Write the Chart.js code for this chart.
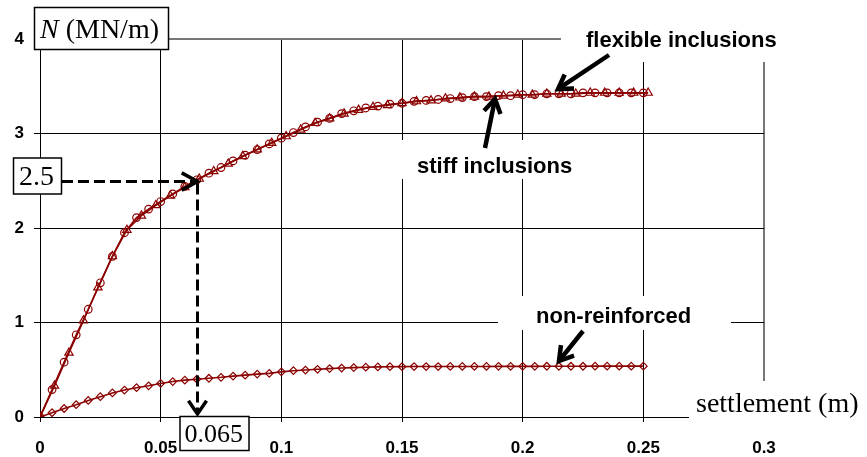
<!DOCTYPE html>
<html>
<head>
<meta charset="utf-8">
<script src="https://cdn.jsdelivr.net/npm/chart.js@4.4.0/dist/chart.umd.min.js"></script>
<style>
  html, body { margin: 0; padding: 0; background: #fff; }
  canvas { display: block; }
</style>
</head>
<body>
<canvas id="settlementChart" width="867" height="457"></canvas>
<script>
// settlement (m) and N (MN/m)
const xStiff = [0, 0.005, 0.01, 0.015, 0.02, 0.025, 0.03, 0.035, 0.04, 0.045, 0.05, 0.055, 0.06, 0.065, 0.07, 0.075,
  0.08, 0.085, 0.09, 0.095, 0.1, 0.105, 0.11, 0.115, 0.12, 0.125, 0.13, 0.135, 0.14, 0.145, 0.15, 0.155, 0.16,
  0.165, 0.17, 0.175, 0.18, 0.185, 0.19, 0.195, 0.2, 0.205, 0.21, 0.215, 0.22, 0.225, 0.23, 0.235, 0.24, 0.245, 0.25];
const nStiff = [0, 0.29, 0.58, 0.87, 1.14, 1.42, 1.70, 1.95, 2.11, 2.20, 2.28, 2.36, 2.44, 2.51, 2.58, 2.64,
  2.71, 2.77, 2.83, 2.89, 2.95, 3.01, 3.07, 3.12, 3.16, 3.21, 3.24, 3.27, 3.29, 3.31, 3.32, 3.34, 3.35,
  3.36, 3.37, 3.38, 3.39, 3.39, 3.40, 3.40, 3.41, 3.41, 3.42, 3.42, 3.42, 3.43, 3.43, 3.43, 3.43, 3.43, 3.43];

const xFlex = [0, 0.006, 0.012, 0.018, 0.024, 0.03, 0.036, 0.042, 0.048, 0.054, 0.06, 0.066, 0.072, 0.078,
  0.084, 0.09, 0.096, 0.102, 0.108, 0.114, 0.12, 0.126, 0.132, 0.138, 0.144, 0.15, 0.156, 0.162, 0.168,
  0.174, 0.18, 0.186, 0.192, 0.198, 0.204, 0.21, 0.216, 0.222, 0.228, 0.234, 0.24, 0.246, 0.252];
const nFlex = [0, 0.33, 0.68, 1.02, 1.37, 1.70, 1.98, 2.13, 2.24, 2.34, 2.43, 2.52, 2.60, 2.68,
  2.76, 2.83, 2.90, 2.97, 3.04, 3.11, 3.16, 3.21, 3.25, 3.28, 3.30, 3.32, 3.34, 3.35, 3.37,
  3.38, 3.39, 3.39, 3.40, 3.41, 3.41, 3.42, 3.42, 3.42, 3.43, 3.43, 3.43, 3.43, 3.43];

const xNon = xStiff;
const nNon = [0, 0.045, 0.09, 0.13, 0.175, 0.215, 0.255, 0.285, 0.31, 0.33, 0.355, 0.375, 0.39, 0.40, 0.41, 0.42,
  0.433, 0.443, 0.454, 0.462, 0.478, 0.49, 0.497, 0.505, 0.512, 0.518, 0.523, 0.527, 0.53, 0.532, 0.533, 0.534, 0.534,
  0.534, 0.535, 0.535, 0.535, 0.535, 0.536, 0.536, 0.536, 0.536, 0.537, 0.537, 0.537, 0.537, 0.538, 0.538, 0.538, 0.538, 0.538];

const xTickLabels = ['0', '0.05', '0.1', '0.15', '0.2', '0.25', '0.3'];
const yTickLabels = ['0', '1', '2', '3', '4'];

const readX = 0.065;
const readN = 2.5;

const red = '#8b0000';
const sans = "'Liberation Sans', Arial, sans-serif";
const serif = "'Liberation Serif', 'Times New Roman', serif";

function pts(xs, ys) {
  return xs.map((x, i) => ({ x: x, y: ys[i] }));
}

function chevron(ctx, x, y, ang, h, s) {
  ctx.beginPath();
  ctx.moveTo(x - h * Math.cos(ang - s), y - h * Math.sin(ang - s));
  ctx.lineTo(x, y);
  ctx.lineTo(x - h * Math.cos(ang + s), y - h * Math.sin(ang + s));
  ctx.stroke();
}

function arrow(ctx, x1, y1, x2, y2) {
  const a = Math.atan2(y2 - y1, x2 - x1);
  ctx.beginPath();
  ctx.moveTo(x1, y1);
  ctx.lineTo(x2 - 2 * Math.cos(a), y2 - 2 * Math.sin(a));
  ctx.stroke();
  chevron(ctx, x2, y2, a, 16, 0.55);
}

const annotations = {
  id: 'annotations',
  beforeDatasetsDraw(chart) {
    const ctx = chart.ctx;
    ctx.save();
    ctx.fillStyle = '#fff';
    ctx.fillRect(561, 0, 306, 62);
    ctx.fillRect(398, 140, 197, 39);
    ctx.fillRect(498, 296, 233, 34);
    ctx.fillRect(689, 381, 178, 43);
    ctx.restore();
  },
  afterDraw(chart) {
    const ctx = chart.ctx;
    const px = Math.round(chart.scales.x.getPixelForValue(readX)) + 0.5;
    const py = Math.round(chart.scales.y.getPixelForValue(readN)) + 0.5;
    const bottom = chart.chartArea.bottom;
    ctx.save();

    // dashed reading lines
    ctx.strokeStyle = '#000';
    ctx.lineWidth = 3;
    ctx.setLineDash([11, 5]);
    ctx.beginPath();
    ctx.moveTo(62, py);
    ctx.lineTo(px - 3, py);
    ctx.moveTo(px, py + 2);
    ctx.lineTo(px, bottom - 6);
    ctx.stroke();
    ctx.setLineDash([]);
    ctx.lineWidth = 3.5;
    chevron(ctx, px, py, 0, 18, 0.5);
    chevron(ctx, px, bottom - 3, Math.PI / 2, 16, 0.6);

    // boxes
    ctx.lineWidth = 1.5;
    ctx.fillStyle = '#fff';
    ctx.fillRect(34.5, 7.5, 134, 42);
    ctx.strokeRect(34.5, 7.5, 134, 42);
    ctx.fillRect(13.5, py - 23.5, 48, 36);
    ctx.strokeRect(13.5, py - 23.5, 48, 36);
    ctx.fillRect(px - 17.5, bottom - 0.5, 69, 34);
    ctx.strokeRect(px - 17.5, bottom - 0.5, 69, 34);

    ctx.fillStyle = '#000';
    ctx.textBaseline = 'alphabetic';
    ctx.textAlign = 'left';
    ctx.font = 'italic 28px ' + serif;
    ctx.fillText('N', 40, 38);
    const nw = ctx.measureText('N').width;
    ctx.font = '28px ' + serif;
    ctx.fillText(' (MN/m)', 40 + nw, 38);
    ctx.fillText('2.5', 19, py + 3.5);
    ctx.font = '26px ' + serif;
    ctx.fillText('0.065', px - 13, bottom + 25);
    ctx.font = '28px ' + serif;
    ctx.fillText('settlement (m)', 696, 412);

    // curve labels
    ctx.font = 'bold 22px ' + sans;
    ctx.fillText('flexible inclusions', 586, 47);
    ctx.fillText('stiff inclusions', 417, 173);
    ctx.fillText('non-reinforced', 536, 323);

    ctx.lineWidth = 4.5;
    ctx.lineJoin = 'miter';
    arrow(ctx, 609, 55, 558, 89);
    arrow(ctx, 485, 148, 495, 99);
    arrow(ctx, 583, 331, 559, 361);
    ctx.restore();
  }
};

const ctx = document.getElementById('settlementChart').getContext('2d');
new Chart(ctx, {
  type: 'scatter',
  data: {
    datasets: [{
      label: 'non-reinforced',
      data: pts(xNon, nNon),
      showLine: true,
      borderColor: red,
      borderWidth: 1.6,
      pointStyle: 'rectRot',
      pointRadius: 3.8,
      pointBorderWidth: 1.2,
      pointBorderColor: red,
      pointBackgroundColor: 'rgba(0,0,0,0)'
    }, {
      label: 'stiff inclusions',
      data: pts(xStiff, nStiff),
      showLine: true,
      borderColor: red,
      borderWidth: 1.6,
      pointStyle: 'circle',
      pointRadius: 3.8,
      pointBorderWidth: 1.2,
      pointBorderColor: red,
      pointBackgroundColor: 'rgba(0,0,0,0)'
    }, {
      label: 'flexible inclusions',
      data: pts(xFlex, nFlex),
      showLine: true,
      borderColor: red,
      borderWidth: 1.6,
      pointStyle: 'triangle',
      pointRadius: 4.8,
      pointBorderWidth: 1.2,
      pointBorderColor: red,
      pointBackgroundColor: 'rgba(0,0,0,0)'
    }]
  },
  options: {
    responsive: false,
    animation: false,
    layout: { padding: { left: 0, top: 39, right: 103, bottom: 0 } },
    plugins: { legend: { display: false }, tooltip: { enabled: false } },
    scales: {
      x: {
        type: 'linear',
        min: 0,
        max: 0.3,
        afterFit: scale => { scale.height = 40; },
        border: { color: '#000', width: 1 },
        grid: {
          color: c => (c.tick && c.tick.value > 0.29 ? '#777' : '#000'),
          lineWidth: c => (c.tick && c.tick.value > 0.29 ? 2 : 1),
          tickLength: 5
        },
        ticks: {
          stepSize: 0.05,
          autoSkip: false,
          maxRotation: 0,
          padding: 16,
          color: '#000',
          font: { family: sans, size: 17, weight: 'bold' },
          callback: (v, i) => xTickLabels[i]
        }
      },
      y: {
        min: 0,
        max: 4,
        afterFit: scale => { scale.width = 40; },
        border: { color: '#000', width: 1 },
        grid: {
          color: c => (c.tick && c.tick.value === 4 ? '#777' : '#000'),
          lineWidth: c => (c.tick && c.tick.value === 4 ? 2 : 1),
          tickLength: 6
        },
        ticks: {
          stepSize: 1,
          padding: 10,
          color: '#000',
          font: { family: sans, size: 17, weight: 'bold' },
          callback: (v, i) => yTickLabels[i]
        }
      }
    }
  },
  plugins: [annotations]
});
</script>
</body>
</html>
